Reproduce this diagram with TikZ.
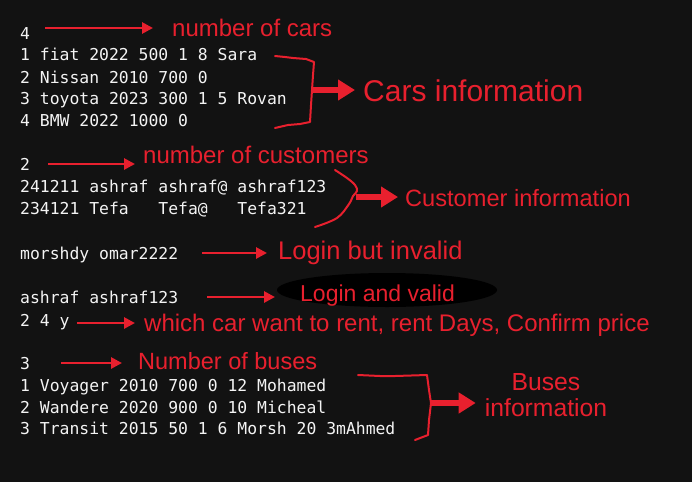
\documentclass[tikz,border=0pt]{standalone}
\usepackage{fontspec}
\setmainfont{Liberation Sans}
\setmonofont{DejaVu Sans Mono}
\usepackage{tikz}
\usetikzlibrary{calc, arrows.meta}
\usepackage{xcolor}
\definecolor{bgdark}{HTML}{121212}
\definecolor{codewhite}{HTML}{F4F4F4}
\definecolor{notered}{HTML}{E8202E}
\tikzset{
	code/.style={anchor=west, inner sep=0pt, text=codewhite, font=\ttfamily\fontsize{16.4}{18}\selectfont, text height=12pt, text depth=0pt},
	note/.style={anchor=west, inner sep=0pt, text=notered, font=\fontsize{24}{28}\selectfont, text height=17pt, text depth=0pt},
	pointer/.style={draw=notered, line width=2.9pt, -{Triangle[length=11pt,width=11pt]}},
	bigpointer/.style={draw=notered, line width=5.5pt, -{Triangle[length=17pt,width=20pt]}},
	bracket/.style={draw=notered, line width=2pt, line join=round, line cap=round}
}

\begin{document}
\begin{tikzpicture}[x=1pt,y=-1pt]
	\fill[bgdark] (0,0) rectangle (692,482);
%	cars
	\node[code, name=c0] at (20,33) {4};
	\node[code, name=c1] at (20,54) {1 fiat 2022 500 1 8 Sara};
	\node[code, name=c2] at (20,77) {2 Nissan 2010 700 0};
	\node[code, name=c3] at (20,98) {3 toyota 2023 300 1 5 Rovan};
	\node[code, name=c4] at (20,120) {4 BMW 2022 1000 0};
	\node[note, name=lcars] at (172,28) {number of cars};
	\node[note, name=lcarsinfo, font=\fontsize{30}{34}\selectfont, text height=21.5pt] at (363,91) {Cars information};
	\draw[pointer, shorten <=15pt, shorten >=19pt] (lcars.west -| c0.east) -- (lcars.west);
	\draw[bracket] (275,56) -- (285,57) -- (293,58) -- (306,59) -- (314,62) -- (313,75) -- (312,90) coordinate (cpt) -- (311,105) -- (310,122) -- (300,124) -- (288,125) -- (275,128);
	\draw[bigpointer, shorten >=8pt] (cpt) -- (cpt -| lcarsinfo.west);
%	customers
	\node[code, name=u0] at (20,164) {2};
	\node[code, name=u1] at (20,186) {241211 ashraf ashraf@ ashraf123};
	\node[code, name=u2] at (20,208) {234121 Tefa~~~Tefa@~~~Tefa321};
	\node[note, name=lcust] at (143,155) {number of customers};
	\node[note, name=lcustinfo, font=\fontsize{23.6}{28}\selectfont] at (405,198) {Customer information};
	\draw[pointer, shorten <=18pt, shorten >=8pt] (u0.east) -- (u0.east -| lcust.west);
	\draw[bracket] plot[smooth, tension=0.6] coordinates {(335,170) (347,178) (355,185) (357,191) (353,196) (349,204) (337,218) (315,227)};
	\coordinate (upt) at (356,197);
	\draw[bigpointer, shorten >=7pt] (upt) -- (upt -| lcustinfo.west);
%	login
	\node[code, name=lg1] at (20,253) {morshdy omar2222};
	\node[note, name=linvalid, font=\fontsize{25.5}{30}\selectfont, text height=18.3pt] at (278,250) {Login but invalid};
	\draw[pointer, shorten <=24pt, shorten >=11pt] (lg1.east) -- (lg1.east -| linvalid.west);
	\node[code, name=lg2] at (20,297) {ashraf ashraf123};
	\fill[black] (387,290) ellipse (110 and 17);
	\node[note, name=lvalid, font=\fontsize{23}{28}\selectfont, text height=16.5pt] at (300,293) {Login and valid};
	\draw[pointer, shorten <=29pt, shorten >=25pt] (lg2.east) -- (lg2.east -| lvalid.west);
	\node[code, name=rent] at (20,320) {2 4 y};
	\node[note, name=lrent] at (144,323) {which car want to rent, rent Days, Confirm price};
	\draw[pointer, shorten <=7pt, shorten >=9pt] (lrent.west -| rent.east) -- (lrent.west);
%	buses
	\node[code, name=b0] at (20,363) {3};
	\node[code, name=b1] at (20,385) {1 Voyager 2010 700 0 12 Mohamed};
	\node[code, name=b2] at (20,407) {2 Wandere 2020 900 0 10 Micheal};
	\node[code, name=b3] at (20,428) {3 Transit 2015 50 1 6 Morsh 20 3mAhmed};
	\node[note, name=lbus, font=\fontsize{23.5}{28}\selectfont] at (138,361) {Number of buses};
	\node[name=lbusinfo, inner sep=0pt, text=notered, align=center, font=\fontsize{24.7}{26}\selectfont] at (546,395) {Buses\\information};
	\draw[pointer, shorten <=31pt, shorten >=16pt] (b0.east) -- (b0.east -| lbus.west);
	\draw[bracket] (358,375) -- (380,376) -- (395,376) -- (427,375) -- (429,390) -- (431,403) coordinate (bpt) -- (429,420) -- (428,435) -- (415,440);
	\draw[bigpointer, shorten >=9pt] (bpt) -- (bpt -| lbusinfo.west);
\end{tikzpicture}
\end{document}
